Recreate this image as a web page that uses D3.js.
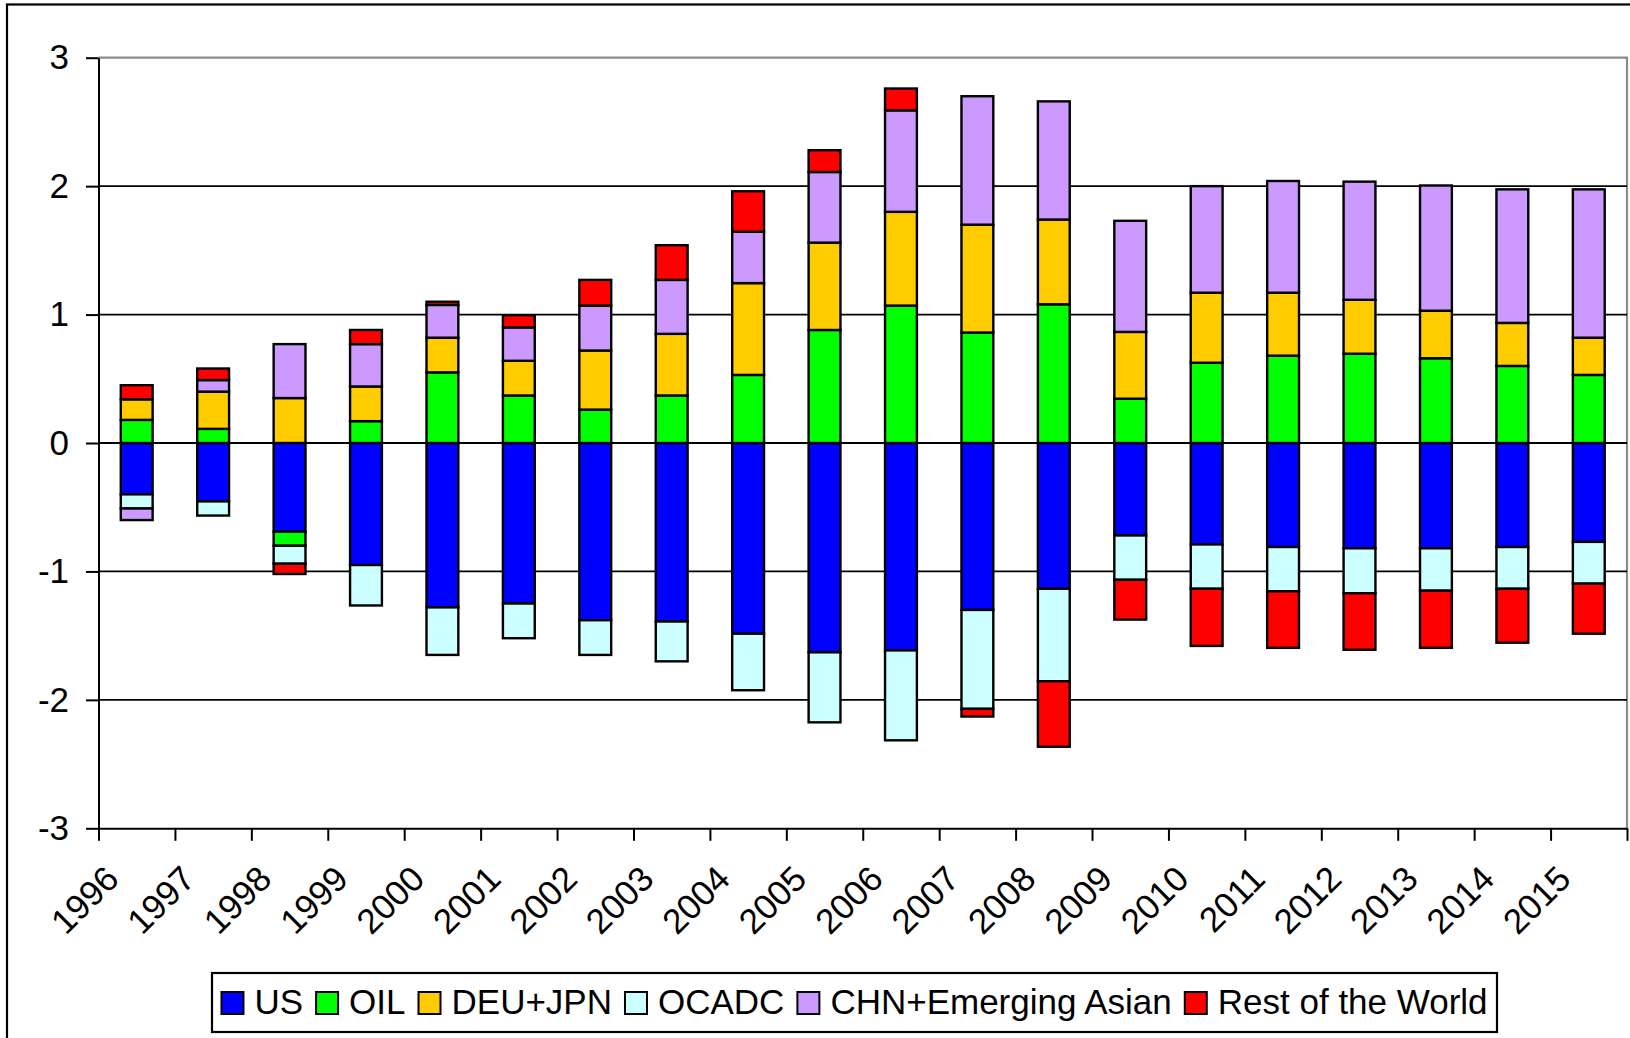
<!DOCTYPE html>
<html>
<head>
<meta charset="utf-8">
<script src="https://cdn.jsdelivr.net/npm/d3@7"></script>
<style>
  body { margin: 0; background: #fff; }
  svg text { font-family: "Liberation Sans", Arial, sans-serif; fill: #000; }
</style>
</head>
<body>
<div id="chart"></div>
<script>
// ---- data ----
const years = ["1996","1997","1998","1999","2000","2001","2002","2003","2004","2005",
               "2006","2007","2008","2009","2010","2011","2012","2013","2014","2015"];

const us     = [-0.40, -0.455, -0.69, -0.95, -1.28, -1.25, -1.38, -1.39, -1.485, -1.63,
                -1.615, -1.30, -1.135, -0.72, -0.79, -0.81, -0.82, -0.82, -0.81, -0.77];
const oil    = [0.18, 0.11, -0.11, 0.17, 0.55, 0.37, 0.26, 0.37, 0.53, 0.88,
                1.07, 0.86, 1.08, 0.345, 0.625, 0.68, 0.695, 0.66, 0.60, 0.53];
const deuJpn = [0.16, 0.29, 0.35, 0.27, 0.27, 0.27, 0.46, 0.48, 0.715, 0.68,
                0.73, 0.84, 0.66, 0.52, 0.545, 0.49, 0.42, 0.37, 0.335, 0.29];
const ocadc  = [-0.11, -0.11, -0.14, -0.315, -0.37, -0.27, -0.27, -0.31, -0.44, -0.545,
                -0.70, -0.77, -0.72, -0.345, -0.345, -0.345, -0.35, -0.33, -0.325, -0.325];
const chnAsia = [-0.09, 0.09, 0.42, 0.33, 0.255, 0.26, 0.35, 0.42, 0.40, 0.55,
                 0.79, 1.0, 0.92, 0.865, 0.83, 0.87, 0.92, 0.975, 1.04, 1.155];
const restWorld = [0.11, 0.09, -0.08, 0.11, 0.025, 0.095, 0.20, 0.27, 0.315, 0.17,
                   0.17, -0.06, -0.51, -0.31, -0.445, -0.44, -0.44, -0.445, -0.42, -0.39];

const seriesNames = ["US", "OIL", "DEU+JPN", "OCADC", "CHN+Emerging Asian", "Rest of the World"];
const seriesValues = [us, oil, deuJpn, ocadc, chnAsia, restWorld];
const seriesColors = ["#0000ff", "#00ff00", "#ffcc00", "#ccffff", "#cc99ff", "#ff0000"];
const yTicks = [-3, -2, -1, 0, 1, 2, 3];

// ---- layout ----
const W = 1630, H = 1038;
const plot = {left: 98.5, right: 1627, top: 57.7, bottom: 828.3};
const fontSize = 35;

const svg = d3.select("#chart").append("svg")
    .attr("width", W)
    .attr("height", H);

// outer chart border (runs off the right and bottom edges)
svg.append("rect")
    .attr("x", 7).attr("y", 4.5)
    .attr("width", 1700).attr("height", 1100)
    .attr("fill", "#fff")
    .attr("stroke", "#000")
    .attr("stroke-width", 2.2);

// rows for the stack
let rows = years.map((yr, i) => {
    let r = {year: yr};
    seriesNames.forEach((s, k) => r[s] = seriesValues[k][i]);
    return r;
});

let stacked = d3.stack()
    .keys(seriesNames)
    .offset(d3.stackOffsetDiverging)(rows);

let x = d3.scaleBand()
    .domain(years)
    .range([plot.left, plot.right])
    .paddingInner(1.4 / 2.4)
    .paddingOuter(0.7 / 2.4);

let y = d3.scaleLinear()
    .domain([-3, 3])
    .range([plot.bottom, plot.top]);

// plot area border (grey top and right)
svg.append("path")
    .attr("d", `M${plot.left},${y(3)}H${plot.right}V${plot.bottom}`)
    .attr("fill", "none")
    .attr("stroke", "#8c8c8c")
    .attr("stroke-width", 2.2);

// gridlines
svg.append("g")
    .selectAll("line")
    .data(yTicks.filter(t => t > -3 && t < 3))
    .enter().append("line")
    .attr("x1", plot.left).attr("x2", plot.right)
    .attr("y1", d => y(d)).attr("y2", d => y(d))
    .attr("stroke", "#000")
    .attr("stroke-width", 1.8);

// bars
svg.append("g")
    .selectAll("g")
    .data(stacked)
    .enter().append("g")
    .attr("fill", (d, i) => seriesColors[i])
    .selectAll("rect")
    .data(d => d.filter(p => p[1] !== p[0]))
    .enter().append("rect")
    .attr("x", d => x(d.data.year))
    .attr("width", x.bandwidth())
    .attr("y", d => y(Math.max(d[0], d[1])))
    .attr("height", d => Math.abs(y(d[0]) - y(d[1])))
    .attr("stroke", "#000")
    .attr("stroke-width", 2.4);

// y axis
let yAxis = svg.append("g")
    .attr("transform", `translate(${plot.left},0)`)
    .call(d3.axisLeft(y).tickValues(yTicks).tickFormat(d3.format("d"))
        .tickSize(12.5).tickSizeOuter(0).tickPadding(17));
yAxis.selectAll("path, line").attr("stroke", "#000").attr("stroke-width", 2);
yAxis.selectAll("text")
    .style("font-size", fontSize + "px")
    .text(d => d < 0 ? "-" + Math.abs(d) : d);
yAxis.attr("font-family", null).attr("font-size", null);

// x axis: ticks between categories
let edge = d3.scaleLinear().domain([0, years.length]).range([plot.left, plot.right]);
let xAxis = svg.append("g")
    .attr("transform", `translate(0,${plot.bottom})`)
    .call(d3.axisBottom(edge).tickValues(d3.range(years.length + 1))
        .tickFormat("").tickSize(12.5).tickSizeOuter(0));
xAxis.selectAll("path, line").attr("stroke", "#000").attr("stroke-width", 2);

// rotated year labels
svg.append("g")
    .selectAll("text")
    .data(years)
    .enter().append("text")
    .attr("text-anchor", "end")
    .attr("transform", d => `translate(${x(d) + x.bandwidth() / 2 - 16},881) rotate(-45)`)
    .style("font-size", fontSize + "px")
    .text(d => d);

// legend
let legendBox = {x: 212, y: 973, w: 1285, h: 59};
svg.append("rect")
    .attr("x", legendBox.x).attr("y", legendBox.y)
    .attr("width", legendBox.w).attr("height", legendBox.h)
    .attr("fill", "#fff")
    .attr("stroke", "#000")
    .attr("stroke-width", 2.2);

let legend = svg.append("g");
let items = legend.selectAll("g")
    .data(seriesNames)
    .enter().append("g");
items.append("rect")
    .attr("width", 22).attr("height", 22)
    .attr("y", 992)
    .attr("fill", (d, i) => seriesColors[i])
    .attr("stroke", "#000")
    .attr("stroke-width", 2);
items.append("text")
    .attr("x", 33)
    .attr("y", 1014)
    .style("font-size", "35px")
    .text(d => d);

// lay the legend items out one after the other and centre them in the box
let cursor = 0;
items.each(function () {
    let g = d3.select(this);
    g.attr("transform", `translate(${cursor},0)`);
    cursor += 33 + g.select("text").node().getComputedTextLength() + 13;
});
let total = cursor - 13;
legend.attr("transform", `translate(${legendBox.x + (legendBox.w - total) / 2},0)`);
</script>
</body>
</html>
